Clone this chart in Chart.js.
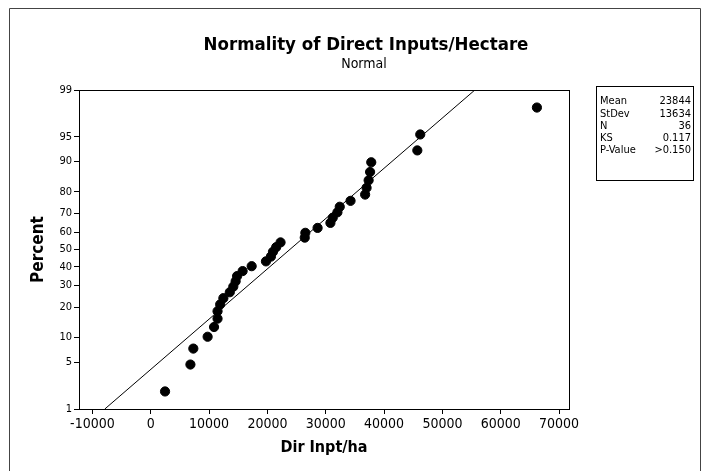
<!DOCTYPE html>
<html>
<head>
<meta charset="utf-8">
<script src="https://cdn.jsdelivr.net/npm/chart.js@4/dist/chart.umd.min.js"></script>
<style>
    html, body { margin: 0; padding: 0; background: #fff; }
    #wrap { width: 703px; height: 471px; }
</style>
</head>
<body>
<div id="wrap"><canvas id="normalityChart"></canvas></div>
<script>
// values (sorted), and their percent positions
let dirInputs = [2450, 6800, 7300, 9750, 10850, 11450, 11450, 11900, 12450, 13550,
    14150, 14550, 14800, 15750, 17300, 19750, 20600, 20950, 21500, 22250,
    26400, 26500, 28600, 30800, 31200, 32000, 32400, 34250, 36750, 37000,
    37350, 37600, 37800, 45700, 46200, 66200];
let percents = [1.92, 4.67, 7.42, 10.16, 12.91, 15.66, 18.41, 21.15, 23.90, 26.65,
    29.40, 32.14, 34.89, 37.64, 40.38, 43.13, 45.88, 48.63, 51.37, 54.12,
    56.87, 59.62, 62.36, 65.11, 67.86, 70.60, 73.35, 76.10, 78.85, 81.59,
    84.34, 87.09, 89.84, 92.58, 95.33, 98.08];

let yTicks = [1, 5, 10, 20, 30, 40, 50, 60, 70, 80, 90, 95, 99];
let xTicks = [-10000, 0, 10000, 20000, 30000, 40000, 50000, 60000, 70000];

let statLabels = ['Mean', 'StDev', 'N', 'KS', 'P-Value'];
let statValues = ['23844', '13634', '36', '0.117', '>0.150'];
let mean = 23844;
let stDev = 13634;

let fontName = '"DejaVu Sans Condensed", "DejaVu Sans", sans-serif';

// inverse of the standard normal cdf (Acklam), used for the probability axis
function probit(p) {
    let a = [-3.969683028665376e+01, 2.209460984245205e+02, -2.759285104469687e+02,
        1.383577518672690e+02, -3.066479806614716e+01, 2.506628277459239e+00];
    let b = [-5.447609879822406e+01, 1.615858368580409e+02, -1.556989798598866e+02,
        6.680131188771972e+01, -1.328068155288572e+01];
    let c = [-7.784894002430293e-03, -3.223964580411365e-01, -2.400758277161838e+00,
        -2.549732539343734e+00, 4.374664141464968e+00, 2.938163982698783e+00];
    let d = [7.784695709041462e-03, 3.224671290700398e-01, 2.445134137142996e+00,
        3.754408661907416e+00];
    let q, r;
    if (p < 0.02425) {
        q = Math.sqrt(-2 * Math.log(p));
        return (((((c[0] * q + c[1]) * q + c[2]) * q + c[3]) * q + c[4]) * q + c[5]) /
            ((((d[0] * q + d[1]) * q + d[2]) * q + d[3]) * q + 1);
    }
    if (p > 1 - 0.02425) {
        q = Math.sqrt(-2 * Math.log(1 - p));
        return -(((((c[0] * q + c[1]) * q + c[2]) * q + c[3]) * q + c[4]) * q + c[5]) /
            ((((d[0] * q + d[1]) * q + d[2]) * q + d[3]) * q + 1);
    }
    q = p - 0.5;
    r = q * q;
    return (((((a[0] * r + a[1]) * r + a[2]) * r + a[3]) * r + a[4]) * r + a[5]) * q /
        (((((b[0] * r + b[1]) * r + b[2]) * r + b[3]) * r + b[4]) * r + 1);
}

let zMin = probit(0.01);
let zMax = probit(0.99);

let points = dirInputs.map(function (v, i) {
    return {x: v, y: probit(percents[i] / 100)};
});
let fitLine = [
    {x: mean + zMin * stDev, y: zMin},
    {x: mean + zMax * stDev, y: zMax}
];

// title, stats box and frames
let extrasPlugin = {
    id: 'extras',
    afterDraw: function (chart) {
        let ctx = chart.ctx;
        let area = chart.chartArea;
        ctx.save();
        ctx.strokeStyle = '#000';
        ctx.lineWidth = 1;
        ctx.strokeRect(Math.round(area.left) + 0.5, Math.round(area.top) + 0.5,
            Math.round(area.right - area.left), Math.round(area.bottom - area.top));

        ctx.strokeStyle = '#444';
        ctx.beginPath();
        ctx.moveTo(9.5, 480);
        ctx.lineTo(9.5, 8.5);
        ctx.lineTo(700.5, 8.5);
        ctx.lineTo(700.5, 480);
        ctx.stroke();

        ctx.fillStyle = '#000';
        ctx.textAlign = 'center';
        ctx.textBaseline = 'middle';
        ctx.font = 'bold 18.5px ' + fontName;
        ctx.fillText('Normality of Direct Inputs/Hectare', 366, 45);
        ctx.font = '14px ' + fontName;
        ctx.fillText('Normal', 364, 64);

        ctx.strokeStyle = '#000';
        ctx.strokeRect(596.5, 86.5, 97, 94);
        ctx.font = '11px ' + fontName;
        for (let i = 0; i < statLabels.length; i++) {
            let y = 101.5 + i * 12.2;
            ctx.textAlign = 'left';
            ctx.fillText(statLabels[i], 600, y);
            ctx.textAlign = 'right';
            ctx.fillText(statValues[i], 691, y);
        }
        ctx.restore();
    }
};

let ctxNormal = document.getElementById('normalityChart');
let normalityChart = new Chart(ctxNormal, {
    type: 'scatter',
    data: {
        datasets: [{
            label: 'Dir Inpt/ha',
            data: points,
            backgroundColor: '#000',
            borderColor: '#000',
            pointRadius: 4.6,
            pointHoverRadius: 4.6
        },
            {
                type: 'line',
                label: 'Fit',
                data: fitLine,
                borderColor: '#000',
                borderWidth: 1,
                pointRadius: 0,
                fill: false,
                tension: 0
            }
        ]
    },
    options: {
        responsive: true,
        maintainAspectRatio: false,
        animation: false,
        layout: {
            padding: {left: 0, top: 90, right: 134, bottom: 0}
        },
        plugins: {
            legend: {display: false},
            tooltip: {enabled: false}
        },
        scales: {
            x: {
                type: 'linear',
                min: -12300,
                max: 71700,
                afterBuildTicks: function (scale) {
                    scale.ticks = xTicks.map(function (v) { return {value: v}; });
                },
                afterFit: function (scale) {
                    scale.height = 62;
                },
                ticks: {
                    color: '#000',
                    font: {family: fontName, size: 14},
                    padding: 2,
                    maxRotation: 0,
                    callback: function (value) { return value; }
                },
                grid: {
                    drawOnChartArea: false,
                    drawTicks: true,
                    tickLength: 5,
                    color: '#000'
                },
                border: {color: '#000'},
                title: {
                    display: true,
                    text: 'Dir Inpt/ha',
                    color: '#000',
                    font: {family: fontName, size: 16, weight: 'bold'},
                    padding: {bottom: 14}
                }
            },
            y: {
                type: 'linear',
                min: zMin,
                max: zMax,
                afterBuildTicks: function (scale) {
                    scale.ticks = yTicks.map(function (p) { return {value: probit(p / 100)}; });
                },
                afterFit: function (scale) {
                    scale.width = 79;
                },
                ticks: {
                    color: '#000',
                    font: {family: fontName, size: 11},
                    padding: 2,
                    callback: function (value, index) { return yTicks[index]; }
                },
                grid: {
                    drawOnChartArea: false,
                    drawTicks: true,
                    tickLength: 5,
                    color: '#000'
                },
                border: {color: '#000'},
                title: {
                    display: true,
                    text: 'Percent',
                    color: '#000',
                    font: {family: fontName, size: 17, weight: 'bold'},
                    padding: {top: 28}
                }
            }
        }
    },
    plugins: [extrasPlugin]
});
</script>
</body>
</html>
